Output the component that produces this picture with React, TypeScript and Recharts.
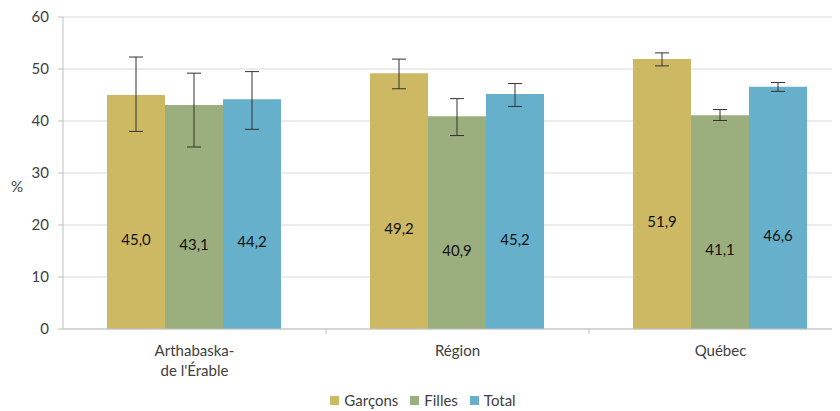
import { Bar, BarChart, CartesianGrid, ErrorBar, LabelList, Legend, XAxis, YAxis } from "recharts"

const categories = ["Arthabaska-\nde l'Érable", "Région", "Québec"]
const garcons = [45.0, 49.2, 51.9]
const filles = [43.1, 40.9, 41.1]
const total = [44.2, 45.2, 46.6]
// [en dessous, au-dessus] de la valeur
const garconsErr = [[7.0, 7.3], [3.0, 2.7], [1.3, 1.2]]
const fillesErr = [[8.1, 6.1], [3.7, 3.4], [1.0, 1.1]]
const totalErr = [[5.8, 5.3], [2.4, 2.0], [0.9, 0.8]]
const yTicks = [0, 10, 20, 30, 40, 50, 60]

const series = [
    { key: "garcons", name: "Garçons", color: "#CDB964" },
    { key: "filles", name: "Filles", color: "#9BAE7D" },
    { key: "total", name: "Total", color: "#66B0CC" },
]

const data = categories.map((name, i) => ({
    name,
    garcons: garcons[i],
    filles: filles[i],
    total: total[i],
    garconsErr: garconsErr[i],
    fillesErr: fillesErr[i],
    totalErr: totalErr[i],
}))

const font = "Lato, 'Noto Sans', sans-serif"
const textColor = "#404040"
const axisColor = "#bfbfbf"

const fmt = (v: any) => Number(v).toFixed(1).replace(".", ",")

function CategoryTick(props: any) {
    const { x, y, payload, index } = props
    const lines = String(payload.value).split("\n")
    const half = payload.offset || 0
    return (
        <g>
            {index > 0 && (
                <line x1={x - half} x2={x - half} y1={y - 8} y2={y - 3} stroke={axisColor} />
            )}
            {lines.map((l, k) => (
                <text
                    key={k}
                    x={x}
                    y={y + 19 + k * 20}
                    textAnchor="middle"
                    fontSize={15}
                    fontFamily={font}
                    fill={textColor}
                >
                    {l}
                </text>
            ))}
        </g>
    )
}

function LegendContent() {
    return (
        <div style={{ display: "flex", justifyContent: "center", gap: 12, fontFamily: font, fontSize: 15, color: textColor }}>
            {series.map((s) => (
                <span key={s.key} style={{ display: "flex", alignItems: "center" }}>
                    <span style={{ width: 9, height: 9, background: s.color, marginRight: 5 }} />
                    {s.name}
                </span>
            ))}
        </div>
    )
}

export default function App() {
    return (
        <div style={{ width: 832, height: 403, overflow: "hidden" }}>
            <BarChart
                width={860}
                height={403}
                data={data}
                margin={{ top: 9, right: 16, bottom: 0, left: 0 }}
                barCategoryGap={44}
                barGap={0}
            >
                <CartesianGrid vertical={false} stroke="#d9d9d9" />
                <YAxis
                    width={55}
                    domain={[0, 60]}
                    ticks={yTicks}
                    interval={0}
                    stroke={axisColor}
                    tickSize={5}
                    tickMargin={9}
                    tick={{ fontSize: 15, fontFamily: font, fill: textColor }}
                    label={{
                        value: "%",
                        position: "insideLeft",
                        offset: 3,
                        dy: 14,
                        fontSize: 15,
                        fontFamily: font,
                        fill: textColor,
                    }}
                />
                <XAxis
                    dataKey="name"
                    height={62}
                    stroke={axisColor}
                    tickLine={false}
                    interval={0}
                    tick={<CategoryTick />}
                />
                <Legend
                    verticalAlign="bottom"
                    height={20}
                    wrapperStyle={{ left: 0, width: 830, bottom: 0 }}
                    content={<LegendContent />}
                />
                {series.map((s) => (
                    <Bar key={s.key} dataKey={s.key} name={s.name} fill={s.color} isAnimationActive={false}>
                        <ErrorBar dataKey={s.key + "Err"} width={7} stroke="#333" strokeWidth={1} direction="y" />
                        <LabelList
                            dataKey={s.key}
                            position="center"
                            dy={28}
                            formatter={fmt}
                            fill="#111"
                            fontSize={15}
                            fontFamily={font}
                        />
                    </Bar>
                ))}
            </BarChart>
        </div>
    )
}
